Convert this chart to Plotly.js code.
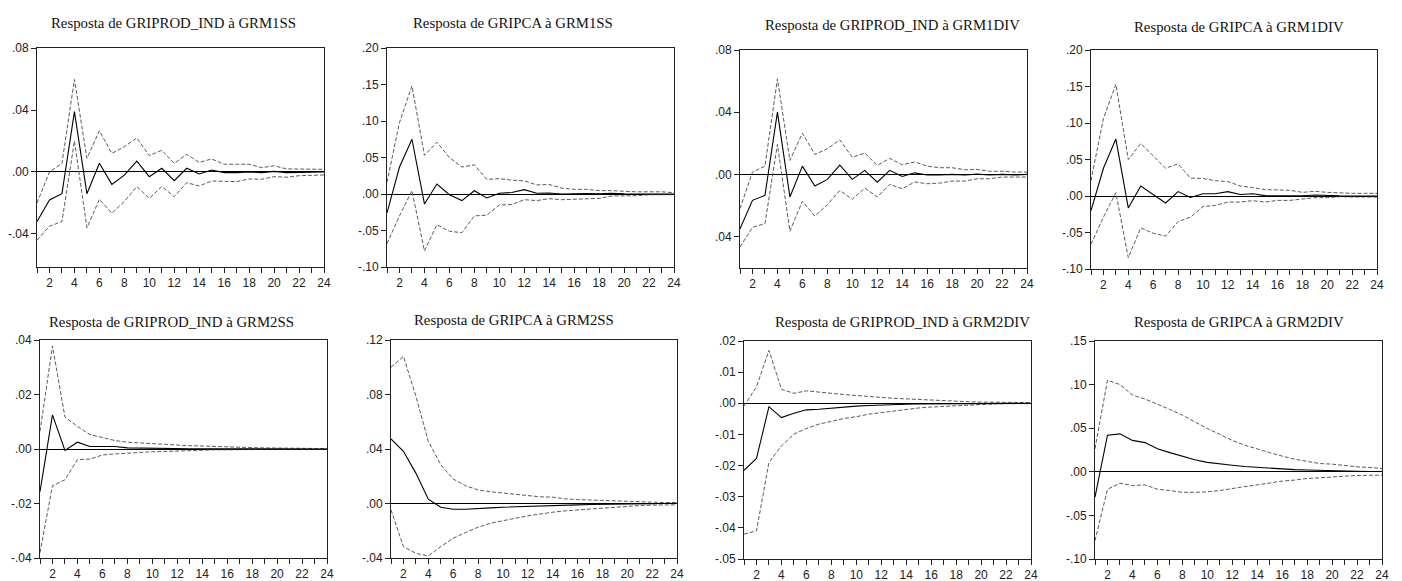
<!DOCTYPE html>
<html>
<head>
<meta charset="utf-8">
<script src="https://cdn.plot.ly/plotly-3.0.1.min.js"></script>
<style>
  html, body { margin: 0; padding: 0; background: #fff; }
  #chart { width: 1402px; height: 581px; }
</style>
</head>
<body>
<div id="chart"></div>
<script>
// Impulse-response horizons (periods after the shock)
const horizons = [1, 2, 3, 4, 5, 6, 7, 8, 9, 10, 11, 12, 13, 14, 15, 16, 17, 18, 19, 20, 21, 22, 23, 24];
const xTickVals = [1, 2, 3, 4, 5, 6, 7, 8, 9, 10, 11, 12, 13, 14, 15, 16, 17, 18, 19, 20, 21, 22, 23, 24];
const xTickText = ['', '2', '', '4', '', '6', '', '8', '', '10', '', '12', '', '14', '', '16', '', '18', '', '20', '', '22', '', '24'];

// Panel titles
const titles = [
  'Resposta de GRIPROD_IND à GRM1SS',
  'Resposta de GRIPCA à GRM1SS',
  'Resposta de GRIPROD_IND à GRM1DIV',
  'Resposta de GRIPCA à GRM1DIV',
  'Resposta de GRIPROD_IND à GRM2SS',
  'Resposta de GRIPCA à GRM2SS',
  'Resposta de GRIPROD_IND à GRM2DIV',
  'Resposta de GRIPCA à GRM2DIV'
];

// Response of GRIPROD_IND to GRM1SS
const prodM1ss   = [-0.032, -0.018, -0.014, 0.039, -0.014, 0.0056, -0.008, -0.002, 0.007, -0.003, 0.0024, -0.0056, 0.0024, -0.0013, 0.0013, -0.0004, -0.0004, 0.0, -0.0004, 0.0004, -0.0004, -0.0002, -0.0004, 0.0];
const prodM1ssHi = [-0.020, 0.0, 0.0056, 0.0597, 0.0088, 0.0266, 0.012, 0.0163, 0.022, 0.0105, 0.014, 0.0056, 0.0114, 0.0062, 0.0084, 0.005, 0.005, 0.005, 0.0028, 0.004, 0.002, 0.002, 0.0017, 0.0017];
const prodM1ssLo = [-0.044, -0.035, -0.032, 0.020, -0.036, -0.0176, -0.0266, -0.019, -0.0094, -0.017, -0.0094, -0.0159, -0.0069, -0.009, -0.0058, -0.0062, -0.0062, -0.0045, -0.0047, -0.003, -0.0034, -0.0024, -0.002, -0.0019];

// Response of GRIPCA to GRM1SS
const ipcaM1ss   = [-0.026, 0.037, 0.075, -0.0136, 0.0136, -0.001, -0.009, 0.0045, -0.0055, 0.001, 0.002, 0.006, 0.001, 0.0014, 0.0, 0.0005, 0.0005, 0.0003, 0.0008, 0.0002, 0.0001, 0.0, 0.0, 0.0];
const ipcaM1ssHi = [0.016, 0.098, 0.148, 0.053, 0.071, 0.050, 0.037, 0.040, 0.020, 0.021, 0.019, 0.018, 0.0124, 0.013, 0.008, 0.0064, 0.0064, 0.0046, 0.0046, 0.0037, 0.003, 0.003, 0.003, 0.0018];
const ipcaM1ssLo = [-0.068, -0.030, 0.0045, -0.078, -0.042, -0.051, -0.053, -0.030, -0.029, -0.015, -0.0145, -0.0078, -0.009, -0.0064, -0.0078, -0.0073, -0.0064, -0.006, -0.0028, -0.0028, -0.0023, -0.001, -0.001, -0.001];

// Response of GRIPROD_IND to GRM1DIV
const prodM1div   = [-0.035, -0.0167, -0.0135, 0.040, -0.0145, 0.0053, -0.0075, -0.0032, 0.006, -0.0032, 0.0026, -0.005, 0.0026, -0.0013, 0.001, -0.0004, -0.0004, 0.0, -0.0004, 0.0002, -0.0004, 0.0, -0.0004, 0.0];
const prodM1divHi = [-0.022, 0.0015, 0.0053, 0.0614, 0.009, 0.0265, 0.0128, 0.0165, 0.0222, 0.011, 0.0137, 0.0058, 0.0103, 0.0062, 0.008, 0.0053, 0.0043, 0.0043, 0.003, 0.0032, 0.002, 0.002, 0.0015, 0.0015];
const prodM1divLo = [-0.0467, -0.034, -0.0317, 0.0193, -0.0365, -0.0173, -0.0268, -0.0195, -0.0103, -0.016, -0.0088, -0.0145, -0.0064, -0.0092, -0.0049, -0.006, -0.0056, -0.0043, -0.0043, -0.0028, -0.0028, -0.0017, -0.0017, -0.0017];

// Response of GRIPCA to GRM1DIV
const ipcaM1div   = [-0.020, 0.038, 0.078, -0.0164, 0.0136, 0.002, -0.0095, 0.006, -0.002, 0.003, 0.003, 0.006, 0.002, 0.003, 0.0005, 0.0003, 0.0002, 0.0003, 0.0014, 0.0004, 0.0002, 0.0001, 0.0001, 0.0];
const ipcaM1divHi = [0.021, 0.106, 0.153, 0.050, 0.072, 0.055, 0.038, 0.044, 0.0245, 0.024, 0.021, 0.0197, 0.0138, 0.0115, 0.0087, 0.0083, 0.0078, 0.005, 0.0064, 0.005, 0.004, 0.0037, 0.0037, 0.0037];
const ipcaM1divLo = [-0.066, -0.029, 0.0045, -0.0845, -0.0436, -0.051, -0.055, -0.035, -0.029, -0.0145, -0.013, -0.0083, -0.0083, -0.0064, -0.0083, -0.006, -0.006, -0.0046, -0.0023, -0.0023, -0.001, -0.0014, -0.0014, -0.0014];

// Response of GRIPROD_IND to GRM2SS
const prodM2ss   = [-0.0157, 0.0125, -0.0005, 0.0025, 0.0009, 0.0009, 0.0009, 0.0004, 0.0003, 0.0002, 0.0002, 0.0002, 0.0001, 0.0001, 0.0001, 0.0001, 0.0001, 0.0001, 0.0, 0.0, 0.0, 0.0, 0.0, 0.0];
const prodM2ssHi = [0.0065, 0.0378, 0.0117, 0.0083, 0.0053, 0.0043, 0.0031, 0.0025, 0.0022, 0.002, 0.0016, 0.0013, 0.0012, 0.0011, 0.0009, 0.0007, 0.0006, 0.0005, 0.0004, 0.0003, 0.0003, 0.0003, 0.0002, 0.0002];
const prodM2ssLo = [-0.038, -0.0135, -0.0113, -0.0039, -0.0037, -0.0022, -0.0018, -0.0015, -0.0012, -0.001, -0.0009, -0.0007, -0.0005, -0.0004, -0.0003, -0.0003, -0.0002, -0.0002, -0.0002, -0.0001, -0.0001, -0.0001, -0.0001, -0.0001];

// Response of GRIPCA to GRM2SS
const ipcaM2ss   = [0.0474, 0.0383, 0.0223, 0.0032, -0.0027, -0.0042, -0.0042, -0.0039, -0.0032, -0.0027, -0.0025, -0.002, -0.0017, -0.0015, -0.0012, -0.001, -0.0007, -0.0007, -0.0005, -0.0005, -0.0002, -0.0002, 0.0, 0.0002];
const ipcaM2ssHi = [0.100, 0.108, 0.0788, 0.0456, 0.0285, 0.018, 0.013, 0.010, 0.0086, 0.0076, 0.0064, 0.0054, 0.0049, 0.0047, 0.0034, 0.0029, 0.0025, 0.0022, 0.002, 0.0017, 0.0012, 0.001, 0.0007, 0.0007];
const ipcaM2ssLo = [-0.0047, -0.0317, -0.0366, -0.0385, -0.0317, -0.0255, -0.0213, -0.0174, -0.0145, -0.0125, -0.0108, -0.0091, -0.0076, -0.0064, -0.0054, -0.0047, -0.0039, -0.0034, -0.0025, -0.002, -0.0015, -0.0012, -0.001, -0.001];

// Response of GRIPROD_IND to GRM2DIV
const prodM2div   = [-0.0215, -0.0177, -0.0011, -0.0046, -0.0032, -0.0021, -0.0019, -0.0015, -0.0012, -0.0009, -0.0007, -0.0005, -0.0004, -0.0003, -0.0002, -0.0002, -0.0002, -0.0001, -0.0001, -0.0001, 0.0, 0.0, 0.0, 0.0];
const prodM2divHi = [-0.0009, 0.0053, 0.017, 0.0045, 0.0032, 0.004, 0.0036, 0.0031, 0.0028, 0.0025, 0.0021, 0.0019, 0.0016, 0.0014, 0.0012, 0.001, 0.0007, 0.0006, 0.0005, 0.0004, 0.0003, 0.0003, 0.0002, 0.0002];
const prodM2divLo = [-0.042, -0.041, -0.019, -0.0137, -0.0099, -0.0081, -0.0067, -0.0057, -0.0049, -0.0043, -0.0035, -0.003, -0.0025, -0.0019, -0.0015, -0.0012, -0.001, -0.0007, -0.0004, -0.0003, -0.0002, -0.0001, -0.0001, -0.0001];

// Response of GRIPCA to GRM2DIV
const ipcaM2div   = [-0.029, 0.042, 0.0435, 0.036, 0.0335, 0.0265, 0.022, 0.0177, 0.0138, 0.0108, 0.0088, 0.0075, 0.006, 0.005, 0.004, 0.0032, 0.0025, 0.002, 0.0015, 0.0011, 0.0008, 0.0006, 0.0004, 0.0003];
const ipcaM2divHi = [0.0265, 0.105, 0.100, 0.088, 0.0835, 0.0777, 0.0715, 0.065, 0.057, 0.0496, 0.043, 0.036, 0.0305, 0.026, 0.022, 0.018, 0.0145, 0.012, 0.0095, 0.0088, 0.0069, 0.0057, 0.005, 0.0038];
const ipcaM2divLo = [-0.079, -0.020, -0.013, -0.0158, -0.015, -0.020, -0.0215, -0.0235, -0.0235, -0.023, -0.0215, -0.019, -0.017, -0.015, -0.0126, -0.0107, -0.0095, -0.0076, -0.0069, -0.0057, -0.005, -0.0042, -0.0038, -0.0038];

// Y tick values and labels per panel
const yTickVals = [
  [-0.04, 0.0, 0.04, 0.08],
  [-0.10, -0.05, 0.0, 0.05, 0.10, 0.15, 0.20],
  [-0.04, 0.0, 0.04, 0.08],
  [-0.10, -0.05, 0.0, 0.05, 0.10, 0.15, 0.20],
  [-0.04, -0.02, 0.0, 0.02, 0.04],
  [-0.04, 0.0, 0.04, 0.08, 0.12],
  [-0.05, -0.04, -0.03, -0.02, -0.01, 0.0, 0.01, 0.02],
  [-0.10, -0.05, 0.0, 0.05, 0.10, 0.15]
];
const yTickText = [
  ['-.04', '.00', '.04', '.08'],
  ['-.10', '-.05', '.00', '.05', '.10', '.15', '.20'],
  ['.04', '.00', '.04', '.08'],
  ['-.10', '-.05', '.00', '.05', '.10', '.15', '.20'],
  ['-.04', '-.02', '.00', '.02', '.04'],
  ['-.04', '.00', '.04', '.08', '.12'],
  ['-.05', '-.04', '-.03', '-.02', '-.01', '.00', '.01', '.02'],
  ['-.10', '-.05', '.00', '.05', '.10', '.15']
];
const yRanges = [
  [-0.0613, 0.08], [-0.10, 0.20], [-0.0602, 0.08], [-0.10, 0.20],
  [-0.04, 0.04], [-0.04, 0.12], [-0.05, 0.02], [-0.10, 0.15]
];

const panels = [
  [prodM1ss, prodM1ssHi, prodM1ssLo],
  [ipcaM1ss, ipcaM1ssHi, ipcaM1ssLo],
  [prodM1div, prodM1divHi, prodM1divLo],
  [ipcaM1div, ipcaM1divHi, ipcaM1divLo],
  [prodM2ss, prodM2ssHi, prodM2ssLo],
  [ipcaM2ss, ipcaM2ssHi, ipcaM2ssLo],
  [prodM2div, prodM2divHi, prodM2divLo],
  [ipcaM2div, ipcaM2divHi, ipcaM2divLo]
];

// Plot-area boxes in pixels: [left, right, top, bottom], and title centres [x, y]
const W = 1402, H = 581;
const boxes = [
  [37, 324, 48, 267], [387, 674, 48, 267], [740, 1027, 50, 268], [1091, 1377, 50, 269],
  [40, 327, 340, 558], [391, 677, 340, 558], [744, 1031, 341, 559], [1095, 1382, 341, 559]
];
const titlePos = [
  [173, 23], [513, 23], [892, 25], [1239, 27],
  [171, 322], [514, 320], [902, 322], [1239, 322]
];

const traces = [];
const layout = {
  width: W, height: H,
  margin: { l: 0, r: 0, t: 0, b: 0 },
  paper_bgcolor: '#ffffff',
  plot_bgcolor: '#ffffff',
  showlegend: false,
  annotations: []
};

const tickFont = { family: 'Liberation Sans, Arial, sans-serif', size: 12, color: '#222' };

panels.forEach((series, i) => {
  const n = i + 1;
  const xa = n === 1 ? 'x' : 'x' + n;
  const ya = n === 1 ? 'y' : 'y' + n;
  const [resp, hi, lo] = series;
  const bandStyle = { color: '#5a5a5a', width: 1, dash: '4px,2px' };
  traces.push({ x: horizons, y: hi, xaxis: xa, yaxis: ya, mode: 'lines', line: bandStyle, hoverinfo: 'skip' });
  traces.push({ x: horizons, y: lo, xaxis: xa, yaxis: ya, mode: 'lines', line: bandStyle, hoverinfo: 'skip' });
  traces.push({ x: horizons, y: resp, xaxis: xa, yaxis: ya, mode: 'lines', line: { color: '#000', width: 1.1 } });

  const [l, r, t, b] = boxes[i];
  layout['xaxis' + (n === 1 ? '' : n)] = {
    domain: [l / W, r / W],
    anchor: ya,
    range: [1, 24],
    tickmode: 'array', tickvals: xTickVals, ticktext: xTickText,
    ticks: 'outside', ticklen: 5, tickwidth: 1, tickcolor: '#222',
    showline: true, linecolor: '#222', linewidth: 1, mirror: true,
    showgrid: false, zeroline: false,
    tickfont: tickFont, fixedrange: true
  };
  layout['yaxis' + (n === 1 ? '' : n)] = {
    domain: [1 - b / H, 1 - t / H],
    anchor: xa,
    range: yRanges[i],
    tickmode: 'array', tickvals: yTickVals[i], ticktext: yTickText[i],
    ticks: 'outside', ticklen: 5, tickwidth: 1, tickcolor: '#222',
    showline: true, linecolor: '#222', linewidth: 1, mirror: true,
    showgrid: false,
    zeroline: true, zerolinecolor: '#000', zerolinewidth: 1,
    tickfont: tickFont, fixedrange: true
  };
  layout.annotations.push({
    text: titles[i],
    xref: 'paper', yref: 'paper',
    x: titlePos[i][0] / W, y: 1 - titlePos[i][1] / H,
    xanchor: 'center', yanchor: 'middle',
    showarrow: false,
    font: { family: 'Liberation Serif, Times New Roman, serif', size: 14.8, color: '#111' }
  });
});

Plotly.newPlot('chart', traces, layout, { displayModeBar: false, staticPlot: true });
</script>
</body>
</html>
